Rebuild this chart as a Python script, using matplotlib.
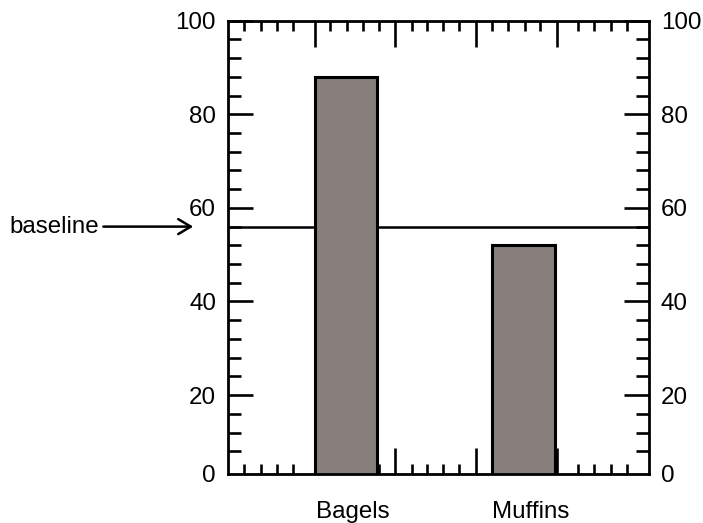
import matplotlib.pyplot as plt

plt.rcParams['font.family'] = ['Liberation Sans', 'DejaVu Sans']

# data
categories = ["Bagels", "Muffins"]
values = [88, 52]
baseline_value = 56
ytick_values = [0, 20, 40, 60, 80, 100]

BAR_COLOR = "#877f7b"
FS = 17.4

fig = plt.figure(figsize=(7.03, 5.23), dpi=100)
ax = fig.add_axes([0.3239, 0.0943, 0.5993, 0.8661])

pos = list(range(len(categories)))
ax.bar(pos, values, width=0.35, color=BAR_COLOR, edgecolor="black",
       linewidth=2.2, zorder=3)
ax.axhline(baseline_value, color="black", linewidth=1.8, zorder=2)

y_bottom = 3.2
ax.set_ylim(y_bottom, 100)
ax.set_xlim(-0.666, 1.707)

# y axis ticks on both sides, inward
ax.set_yticks([max(v, y_bottom) for v in ytick_values])
ax.set_yticklabels([str(v) for v in ytick_values])
ax.set_yticks([v for v in range(8, 100, 4) if v % 20], minor=True)

# x axis: decorative major / minor ticks, categories written below the bars
ax.set_xticks([-0.177, 0.276, 0.732, 1.186])
ax.set_xticks([-0.572, -0.481, -0.390, -0.297,
               -0.090, 0.004, 0.096, 0.186,
               0.370, 0.456, 0.546, 0.639,
               0.821, 0.913, 1.008, 1.093,
               1.307, 1.397, 1.493, 1.583], minor=True)
ax.set_xticklabels([])

ax.tick_params(axis="both", which="both", direction="in", width=1.9,
               top=True, right=True, labelsize=FS, color="black")
ax.tick_params(axis="y", which="both", labelright=True, pad=8.5)
ax.tick_params(axis="y", which="major", length=18)
ax.tick_params(axis="y", which="minor", length=9.5)
ax.tick_params(axis="x", which="major", length=18.5)
ax.tick_params(axis="x", which="minor", length=7)
ax.set_axisbelow(True)

# the "0" label sits at the bottom spine; no tick mark there
bottom_tick = ax.yaxis.get_major_ticks()[0]
bottom_tick.tick1line.set_visible(False)
bottom_tick.tick2line.set_visible(False)

for s in ax.spines.values():
    s.set_linewidth(2)
    s.set_zorder(4)

for p, name in zip(pos, categories):
    ax.text(p + 0.04, -0.085, name, transform=ax.get_xaxis_transform(),
            ha="center", va="center", fontsize=FS)

ax.annotate("baseline", xy=(-0.082, baseline_value),
            xytext=(-0.305, baseline_value),
            xycoords=("axes fraction", "data"),
            textcoords=("axes fraction", "data"),
            ha="right", va="center", fontsize=FS,
            arrowprops=dict(arrowstyle="->,head_length=0.5,head_width=0.3",
                            color="black", lw=1.8,
                            mutation_scale=18, shrinkA=1, shrinkB=0))

fig.savefig("out.png", dpi=100)
